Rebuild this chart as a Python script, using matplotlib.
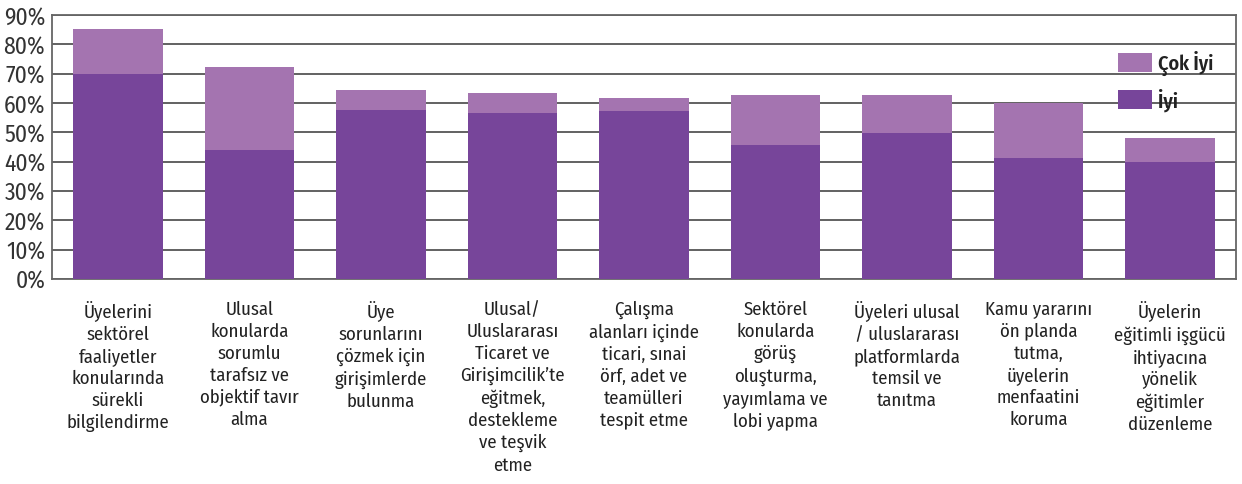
import matplotlib
matplotlib.use("Agg")
import matplotlib.pyplot as plt
from matplotlib.ticker import FuncFormatter
import numpy as np

# survey results: share of members rating each service
categories = [
    "Üyelerini\nsektörel\nfaaliyetler\nkonularında\nsürekli\nbilgilendirme",
    "Ulusal\nkonularda\nsorumlu\ntarafsız ve\nobjektif tavır\nalma",
    "Üye\nsorunlarını\nçözmek için\ngirişimlerde\nbulunma",
    "Ulusal/\nUluslararası\nTicaret ve\nGirişimcilik’te\neğitmek,\ndestekleme\nve teşvik\netme",
    "Çalışma\nalanları içinde\nticari, sınai\nörf, adet ve\nteamülleri\ntespit etme",
    "Sektörel\nkonularda\ngörüş\noluşturma,\nyayımlama ve\nlobi yapma",
    "Üyeleri ulusal\n/ uluslararası\nplatformlarda\ntemsil ve\ntanıtma",
    "Kamu yararını\nön planda\ntutma,\nüyelerin\nmenfaatini\nkoruma",
    "Üyelerin\neğitimli işgücü\nihtiyacına\nyönelik\neğitimler\ndüzenleme",
]
iyi = [70, 44, 57.6, 56.6, 57.3, 45.7, 49.8, 41.3, 39.9]
cok_iyi = [15.2, 28.3, 6.8, 6.8, 4.4, 17.0, 12.9, 18.7, 8.2]

plt.rcParams["font.family"] = ["Fira Sans Condensed", "Liberation Sans", "DejaVu Sans"]

c_iyi = "#77459A"
c_cok = "#A474B0"

fig = plt.figure(figsize=(12.42, 4.85), dpi=100)
ax = fig.add_axes([0.042, 0.423, 0.953, 0.544])

x = np.arange(len(categories))
ax.bar(x, iyi, width=0.68, color=c_iyi, label="İyi", zorder=3)
ax.bar(x, cok_iyi, width=0.68, bottom=iyi, color=c_cok, label="Çok İyi", zorder=3)

ax.set_ylim(0, 90)
ax.set_xlim(-0.5, len(categories) - 0.5)
ax.set_yticks(range(0, 91, 10))
ax.yaxis.set_major_formatter(FuncFormatter(lambda v, p: f"{int(v)}%"))
ax.yaxis.grid(True, color="#555555", linewidth=1.3, zorder=0)
ax.tick_params(axis="y", length=0, labelsize=17, pad=5, labelcolor="#333333")
ax.set_xticks(x)
ax.set_xticklabels(categories, fontsize=13.5, linespacing=1.3, va="top")
ax.tick_params(axis="x", length=0, pad=15, labelcolor="#222222")

for s in ax.spines.values():
    s.set_color("#666666")
    s.set_linewidth(1.3)

handles, labels = ax.get_legend_handles_labels()
leg = ax.legend(handles[::-1], labels[::-1], loc="upper right",
                bbox_to_anchor=(0.996, 0.935), frameon=False,
                prop={"size": 14.5, "weight": "semibold"},
                handlelength=1.65, handleheight=1.05, labelspacing=0.6,
                handletextpad=0.3)
for t in leg.get_texts():
    t.set_color("#222222")

fig.savefig("out.png", dpi=100)
